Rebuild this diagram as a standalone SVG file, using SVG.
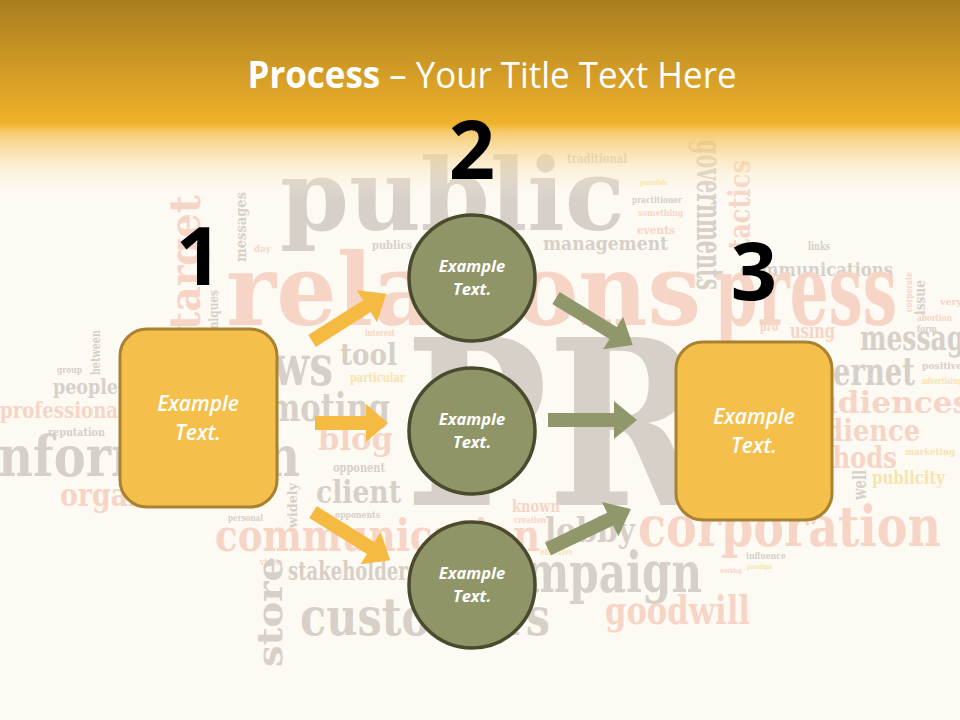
<svg xmlns="http://www.w3.org/2000/svg" width="960" height="720" viewBox="0 0 960 720">
<defs>
<linearGradient id="hdr" x1="0" y1="0" x2="0" y2="1">
<stop offset="0" stop-color="#a97d1f"/>
<stop offset="0.62" stop-color="#f0b22b"/>
<stop offset="0.66" stop-color="#f5c257" stop-opacity="0.85"/>
<stop offset="1" stop-color="#fdfaf2" stop-opacity="0"/>
</linearGradient>
<style>
.w{font-family:"DejaVu Serif","Liberation Serif",serif;font-weight:bold}
.g{fill:#d7d0c8}
.p{fill:#f6d5c7}
.y{fill:#f6e4ae}
.title{font-family:"Open Sans","Noto Sans",sans-serif;fill:#ffffff;font-size:37px}
.num{font-family:"Open Sans","Noto Sans",sans-serif;font-weight:bold;font-size:81px;fill:#000000;text-anchor:middle}
.box{fill:#f5bf4c;stroke:#a88230;stroke-width:3}
.circ{fill:#8f9566;stroke:#4a4a2f;stroke-width:3.5}
.bt{font-family:"Open Sans","Noto Sans",sans-serif;font-style:italic;font-weight:600;font-size:21px;fill:#ffffff;text-anchor:middle}
.ct{font-family:"Open Sans","Noto Sans",sans-serif;font-style:italic;font-weight:bold;font-size:16.5px;fill:#ffffff;text-anchor:middle}
.ao{fill:#f4ba42}
.ag{fill:#90976a}
</style>
</defs>
<rect x="0" y="0" width="960" height="720" fill="#fdfaf3"/>
<g id="background-words">
<text class="w g" x="430" y="110" font-size="40" textLength="100" lengthAdjust="spacingAndGlyphs">groups</text>
<text class="w g" x="280" y="230" font-size="100" textLength="345" lengthAdjust="spacingAndGlyphs">public</text>
<text class="w g" x="567" y="163" font-size="12" textLength="60" lengthAdjust="spacingAndGlyphs">traditional</text>
<text class="w g" x="543" y="250" font-size="18" textLength="125" lengthAdjust="spacingAndGlyphs">management</text>
<text class="w g" x="372" y="249" font-size="11" textLength="40" lengthAdjust="spacingAndGlyphs">publics</text>
<text class="w y" x="640" y="185" font-size="8" textLength="28" lengthAdjust="spacingAndGlyphs">possible</text>
<text class="w g" x="632" y="203" font-size="9" textLength="50" lengthAdjust="spacingAndGlyphs">practitioner</text>
<text class="w p" x="638" y="216" font-size="9" textLength="45" lengthAdjust="spacingAndGlyphs">something</text>
<text class="w p" x="637" y="234" font-size="11" textLength="38" lengthAdjust="spacingAndGlyphs">events</text>
<text class="w g" transform="translate(697,140) rotate(90)" font-size="38" textLength="150" lengthAdjust="spacingAndGlyphs">governments</text>
<text class="w p" transform="translate(750,250) rotate(-90)" font-size="30" textLength="90" lengthAdjust="spacingAndGlyphs">tactics</text>
<text class="w g" x="808" y="250" font-size="11" textLength="22" lengthAdjust="spacingAndGlyphs">links</text>
<text class="w g" x="740" y="276" font-size="18" textLength="153" lengthAdjust="spacingAndGlyphs">communications</text>
<text class="w p" x="226" y="325" font-size="100" textLength="475" lengthAdjust="spacingAndGlyphs">relations</text>
<text class="w p" x="715" y="325" font-size="100" textLength="182" lengthAdjust="spacingAndGlyphs">press</text>
<text class="w p" transform="translate(200,330) rotate(-90)" font-size="42" textLength="135" lengthAdjust="spacingAndGlyphs">target</text>
<text class="w g" transform="translate(246,262) rotate(-90)" font-size="14" textLength="70" lengthAdjust="spacingAndGlyphs">messages</text>
<text class="w p" x="254" y="252" font-size="10" textLength="17" lengthAdjust="spacingAndGlyphs">day</text>
<text class="w g" transform="translate(218,355) rotate(-90)" font-size="12" textLength="65" lengthAdjust="spacingAndGlyphs">techniques</text>
<text class="w g" x="405" y="505" font-size="230" textLength="300" lengthAdjust="spacingAndGlyphs">PR</text>
<text class="w g" x="215" y="385" font-size="56" textLength="118" lengthAdjust="spacingAndGlyphs">news</text>
<text class="w g" x="340" y="365" font-size="30" textLength="57" lengthAdjust="spacingAndGlyphs">tool</text>
<text class="w p" x="365" y="336" font-size="10" textLength="30" lengthAdjust="spacingAndGlyphs">interest</text>
<text class="w y" x="350" y="382" font-size="12" textLength="55" lengthAdjust="spacingAndGlyphs">particular</text>
<text class="w g" x="210" y="421" font-size="40" textLength="180" lengthAdjust="spacingAndGlyphs">promoting</text>
<text class="w p" x="318" y="450" font-size="32" textLength="75" lengthAdjust="spacingAndGlyphs">blog</text>
<text class="w g" x="333" y="472" font-size="12" textLength="52" lengthAdjust="spacingAndGlyphs">opponent</text>
<text class="w g" x="316" y="503" font-size="32" textLength="85" lengthAdjust="spacingAndGlyphs">client</text>
<text class="w g" x="335" y="518" font-size="9" textLength="45" lengthAdjust="spacingAndGlyphs">opponents</text>
<text class="w g" transform="translate(297,528) rotate(-90)" font-size="12" textLength="45" lengthAdjust="spacingAndGlyphs">widely</text>
<text class="w g" x="228" y="521" font-size="10" textLength="35" lengthAdjust="spacingAndGlyphs">personal</text>
<text class="w g" x="-20" y="476" font-size="56" textLength="320" lengthAdjust="spacingAndGlyphs">information</text>
<text class="w p" x="0" y="418" font-size="22" textLength="125" lengthAdjust="spacingAndGlyphs">professional</text>
<text class="w g" x="53" y="394" font-size="20" textLength="65" lengthAdjust="spacingAndGlyphs">people</text>
<text class="w g" x="57" y="373" font-size="9" textLength="25" lengthAdjust="spacingAndGlyphs">group</text>
<text class="w g" x="48" y="436" font-size="11" textLength="57" lengthAdjust="spacingAndGlyphs">reputation</text>
<text class="w g" transform="translate(100,375) rotate(-90)" font-size="12" textLength="45" lengthAdjust="spacingAndGlyphs">between</text>
<text class="w p" x="60" y="506" font-size="32" textLength="190" lengthAdjust="spacingAndGlyphs">organization</text>
<text class="w p" x="215" y="551" font-size="44" textLength="325" lengthAdjust="spacingAndGlyphs">communication</text>
<text class="w g" x="288" y="580" font-size="26" textLength="130" lengthAdjust="spacingAndGlyphs">stakeholders</text>
<text class="w p" x="260" y="565" font-size="10" textLength="22" lengthAdjust="spacingAndGlyphs">video</text>
<text class="w g" transform="translate(282,667) rotate(-90)" font-size="36" textLength="110" lengthAdjust="spacingAndGlyphs">store</text>
<text class="w g" x="300" y="635" font-size="52" textLength="250" lengthAdjust="spacingAndGlyphs">customers</text>
<text class="w p" x="512" y="512" font-size="16" textLength="48" lengthAdjust="spacingAndGlyphs">known</text>
<text class="w p" x="514" y="523" font-size="9" textLength="32" lengthAdjust="spacingAndGlyphs">creation</text>
<text class="w g" x="545" y="542" font-size="34" textLength="90" lengthAdjust="spacingAndGlyphs">lobby</text>
<text class="w y" x="540" y="555" font-size="9" textLength="33" lengthAdjust="spacingAndGlyphs">effective</text>
<text class="w g" x="472" y="592" font-size="56" textLength="230" lengthAdjust="spacingAndGlyphs">campaign</text>
<text class="w p" x="605" y="624" font-size="40" textLength="145" lengthAdjust="spacingAndGlyphs">goodwill</text>
<text class="w p" x="638" y="546" font-size="56" textLength="303" lengthAdjust="spacingAndGlyphs">corporation</text>
<text class="w g" x="746" y="559" font-size="10" textLength="40" lengthAdjust="spacingAndGlyphs">influence</text>
<text class="w y" x="747" y="569" font-size="7" textLength="25" lengthAdjust="spacingAndGlyphs">paradigm</text>
<text class="w p" x="720" y="573" font-size="7" textLength="22" lengthAdjust="spacingAndGlyphs">working</text>
<text class="w p" x="790" y="338" font-size="20" textLength="45" lengthAdjust="spacingAndGlyphs">using</text>
<text class="w p" x="760" y="331" font-size="12" textLength="18" lengthAdjust="spacingAndGlyphs">pro</text>
<text class="w g" x="860" y="350" font-size="36" textLength="120" lengthAdjust="spacingAndGlyphs">message</text>
<text class="w g" x="790" y="385" font-size="40" textLength="125" lengthAdjust="spacingAndGlyphs">internet</text>
<text class="w g" x="922" y="369" font-size="10" textLength="40" lengthAdjust="spacingAndGlyphs">positive</text>
<text class="w y" x="922" y="384" font-size="9" textLength="40" lengthAdjust="spacingAndGlyphs">advertising</text>
<text class="w p" x="917" y="321" font-size="10" textLength="35" lengthAdjust="spacingAndGlyphs">abortion</text>
<text class="w g" x="917" y="332" font-size="10" textLength="20" lengthAdjust="spacingAndGlyphs">form</text>
<text class="w g" transform="translate(925,315) rotate(-90)" font-size="14" textLength="35" lengthAdjust="spacingAndGlyphs">issue</text>
<text class="w p" transform="translate(912,312) rotate(-90)" font-size="10" textLength="40" lengthAdjust="spacingAndGlyphs">corporate</text>
<text class="w p" x="940" y="305" font-size="10" textLength="22" lengthAdjust="spacingAndGlyphs">very</text>
<text class="w p" x="795" y="413" font-size="30" textLength="175" lengthAdjust="spacingAndGlyphs">audiences</text>
<text class="w p" x="790" y="441" font-size="30" textLength="130" lengthAdjust="spacingAndGlyphs">audience</text>
<text class="w p" x="780" y="468" font-size="30" textLength="117" lengthAdjust="spacingAndGlyphs">methods</text>
<text class="w y" x="872" y="484" font-size="18" textLength="73" lengthAdjust="spacingAndGlyphs">publicity</text>
<text class="w y" x="905" y="455" font-size="10" textLength="50" lengthAdjust="spacingAndGlyphs">marketing</text>
<text class="w g" transform="translate(866,500) rotate(-90)" font-size="18" textLength="30" lengthAdjust="spacingAndGlyphs">well</text>
</g>
<rect x="0" y="0" width="960" height="200" fill="url(#hdr)"/>
<g id="title">
<text class="title" x="492" y="88" text-anchor="middle" textLength="489" lengthAdjust="spacingAndGlyphs"><tspan font-weight="bold">Process</tspan> – Your Title Text Here</text>
</g>
<g id="numbers">
<text class="num" x="472" y="179">2</text>
<text class="num" x="199" y="285">1</text>
<text class="num" x="754" y="300">3</text>
</g>
<g id="connectors">
<path class="ao" transform="translate(312,341) rotate(-32.4)" d="M0,-7 H65 V-19 L88,0 L65,19 V7 H0 Z"/>
<path class="ao" transform="translate(315,423)" d="M0,-7 H51 V-19 L73,0 L51,19 V7 H0 Z"/>
<path class="ao" transform="translate(313,512) rotate(32)" d="M0,-7 H68 V-19 L91,0 L68,19 V7 H0 Z"/>
<path class="ag" transform="translate(556,298) rotate(31.5)" d="M0,-7 H67 V-19 L90,0 L67,19 V7 H0 Z"/>
<path class="ag" transform="translate(548,420)" d="M0,-7 H66 V-19 L89,0 L66,19 V7 H0 Z"/>
<path class="ag" transform="translate(548,549) rotate(-25.7)" d="M0,-7 H69 V-19 L92,0 L69,19 V7 H0 Z"/>
</g>
<g id="node1">
<rect class="box" x="120" y="329" width="157" height="178" rx="27"/>
<text class="bt" x="198" y="411">Example</text>
<text class="bt" x="198" y="440">Text.</text>
</g>
<g id="node2a">
<circle class="circ" cx="472" cy="278" r="63"/>
<text class="ct" x="472" y="272">Example</text>
<text class="ct" x="472" y="295">Text.</text>
</g>
<g id="node2b">
<circle class="circ" cx="472" cy="431" r="63"/>
<text class="ct" x="472" y="425">Example</text>
<text class="ct" x="472" y="448">Text.</text>
</g>
<g id="node2c">
<circle class="circ" cx="472" cy="585" r="63"/>
<text class="ct" x="472" y="579">Example</text>
<text class="ct" x="472" y="602">Text.</text>
</g>
<g id="node3">
<rect class="box" x="676" y="342" width="156" height="178" rx="27"/>
<text class="bt" x="754" y="424">Example</text>
<text class="bt" x="754" y="453">Text.</text>
</g>
</svg>
